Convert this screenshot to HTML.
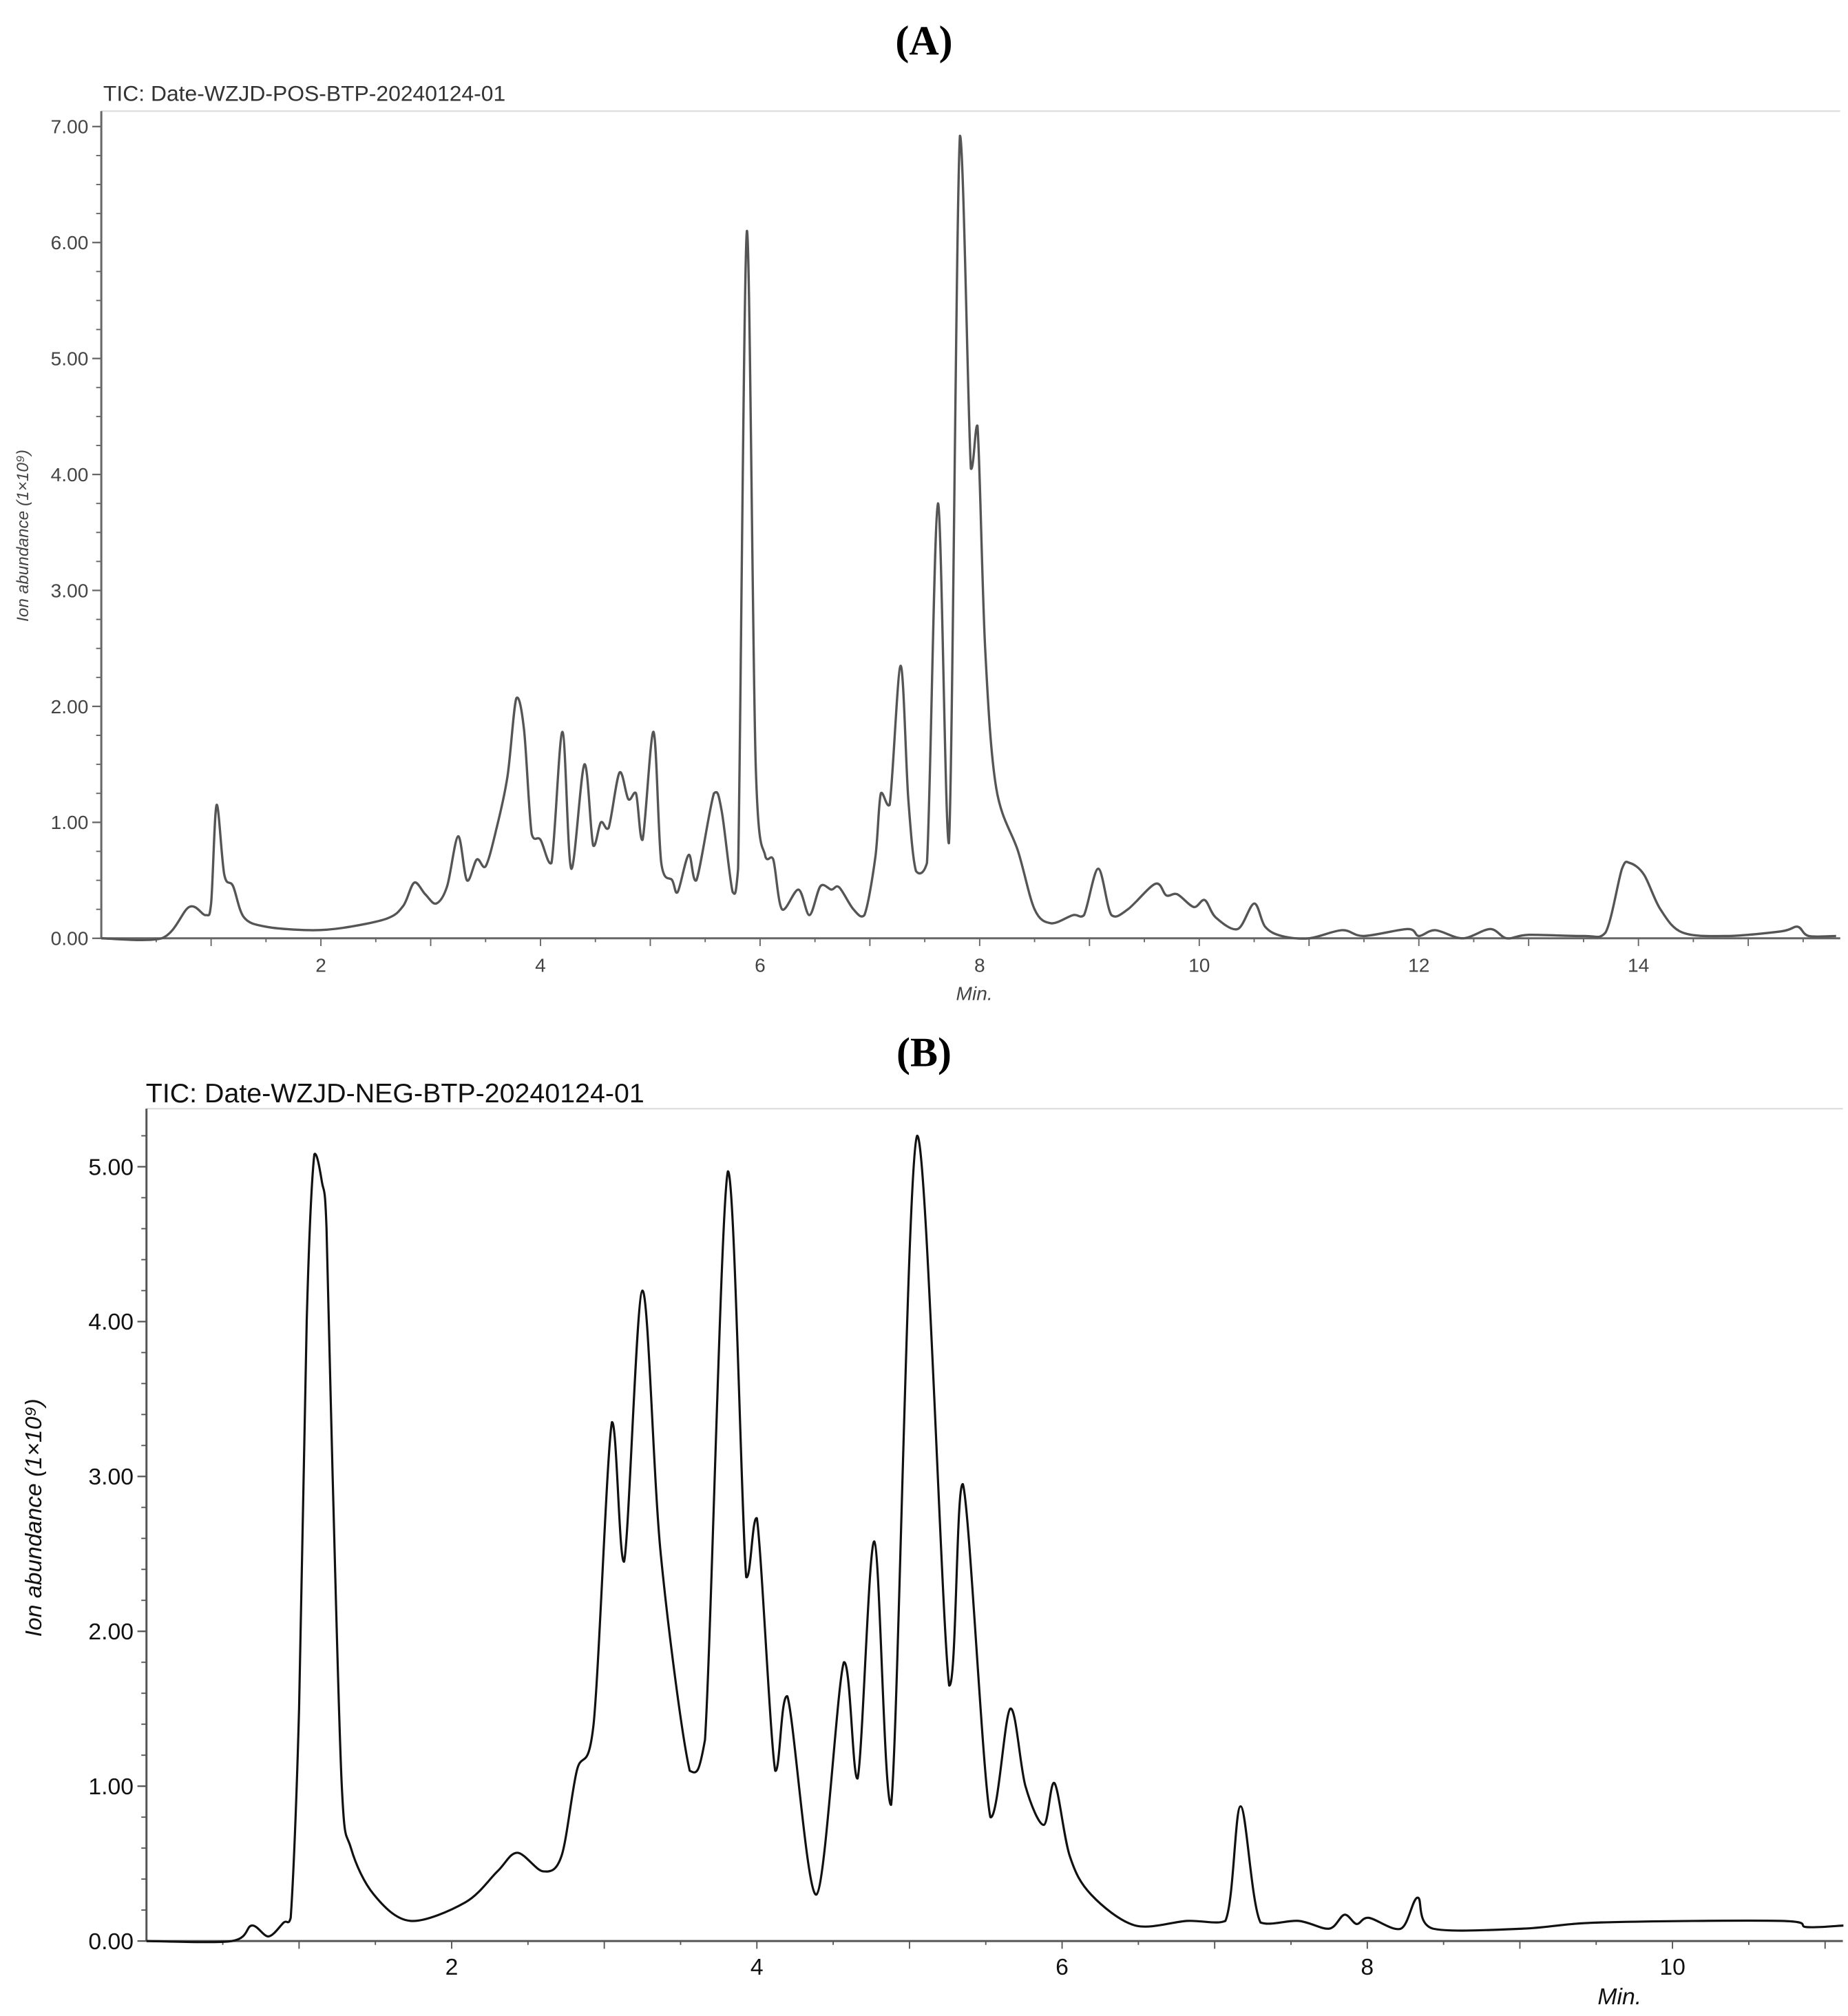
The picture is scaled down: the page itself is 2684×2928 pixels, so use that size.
<!DOCTYPE html>
<html><head><meta charset="utf-8">
<style>
html,body{margin:0;padding:0;background:#fff;}
svg{display:block;}
</style></head>
<body>
<svg id="fig" width="2684" height="2928" viewBox="0 0 1432 1562" xmlns="http://www.w3.org/2000/svg" style="font-family:'Liberation Sans','DejaVu Sans',sans-serif">
<rect x="0" y="0" width="1432" height="1562" fill="#fff"/>
<text x="716" y="42" text-anchor="middle" style="font-family:'Liberation Serif',serif" font-weight="bold" font-size="32" fill="#000">(A)</text>
<text x="80" y="78" font-size="17" fill="#333">TIC: Date-WZJD-POS-BTP-20240124-01</text>
<text x="716" y="826" text-anchor="middle" style="font-family:'Liberation Serif',serif" font-weight="bold" font-size="32" fill="#000">(B)</text>
<text x="113" y="854" font-size="21" fill="#111">TIC: Date-WZJD-NEG-BTP-20240124-01</text>
<g id="chartA"></g>
<g id="chartB"></g>
</svg>
<script>
// Panel A data (time in min, abundance in 1e9)
const timesA = [0,0.55,0.8,0.95,1.0,1.05,1.12,1.2,1.3,1.5,1.9,2.2,2.6,2.75,2.85,2.95,3.05,3.15,3.25,3.33,3.42,3.5,3.6,3.7,3.78,3.85,3.92,4.0,4.1,4.2,4.28,4.4,4.48,4.55,4.62,4.72,4.8,4.87,4.93,5.03,5.1,5.2,5.25,5.35,5.42,5.58,5.65,5.75,5.8,5.88,5.96,6.05,6.12,6.2,6.35,6.45,6.55,6.65,6.72,6.85,6.95,7.05,7.1,7.18,7.28,7.35,7.42,7.52,7.62,7.72,7.82,7.92,7.98,8.05,8.15,8.35,8.5,8.65,8.85,8.95,9.08,9.2,9.35,9.6,9.7,9.8,9.95,10.05,10.15,10.35,10.5,10.6,10.75,11.0,11.3,11.5,11.9,12.0,12.15,12.4,12.65,12.8,13.0,13.5,13.7,13.85,13.92,14.05,14.2,14.4,14.8,15.3,15.45,15.55,15.8];
const valuesA = [0,0,0.27,0.2,0.3,1.15,0.55,0.45,0.18,0.1,0.07,0.09,0.17,0.28,0.48,0.38,0.3,0.45,0.88,0.5,0.68,0.62,0.95,1.4,2.07,1.8,0.9,0.85,0.65,1.78,0.6,1.5,0.8,1.0,0.95,1.43,1.2,1.25,0.85,1.78,0.65,0.5,0.4,0.72,0.5,1.25,1.1,0.4,0.6,6.1,1.5,0.7,0.68,0.25,0.42,0.2,0.45,0.42,0.44,0.25,0.2,0.7,1.25,1.15,2.35,1.2,0.58,0.65,3.75,0.82,6.92,4.05,4.42,2.5,1.3,0.75,0.25,0.13,0.2,0.2,0.6,0.2,0.25,0.47,0.37,0.38,0.27,0.33,0.18,0.08,0.3,0.1,0.02,0.0,0.07,0.02,0.08,0.02,0.07,0.0,0.08,0.0,0.03,0.02,0.05,0.6,0.65,0.55,0.25,0.05,0.02,0.06,0.1,0.02,0.02];
const yTicksA = ["0.00","1.00","2.00","3.00","4.00","5.00","6.00","7.00"];
const xTicksA = ["2","4","6","8","10","12","14"];
// Panel B data
const timesB = [0,0.56,0.69,0.8,0.9,0.945,1.0,1.05,1.10,1.15,1.18,1.22,1.28,1.34,1.49,1.73,2.09,2.3,2.43,2.6,2.72,2.82,2.93,3.05,3.13,3.25,3.37,3.56,3.66,3.81,3.93,4.0,4.12,4.2,4.39,4.57,4.66,4.77,4.88,5.05,5.26,5.35,5.53,5.66,5.76,5.88,5.95,6.05,6.19,6.48,6.82,7.07,7.17,7.3,7.55,7.75,7.85,7.93,8.01,8.22,8.33,8.43,9.02,9.53,10.71,10.88,11.12];
const valuesB = [0,0,0.1,0.03,0.12,0.15,1.5,4.0,5.08,4.9,4.6,3.0,1.0,0.6,0.3,0.13,0.25,0.45,0.57,0.45,0.55,1.1,1.4,3.35,2.45,4.2,2.5,1.1,1.3,4.97,2.35,2.73,1.1,1.58,0.3,1.8,1.05,2.58,0.88,5.2,1.65,2.95,0.8,1.5,1.0,0.75,1.02,0.55,0.3,0.1,0.13,0.13,0.87,0.12,0.13,0.08,0.17,0.11,0.15,0.08,0.28,0.08,0.08,0.12,0.13,0.09,0.1];
const yTicksB = ["0.00","1.00","2.00","3.00","4.00","5.00"];
const xTicksB = ["2","4","6","8","10"];

const NS="http://www.w3.org/2000/svg";
function mk(parent,tag,attrs){const e=document.createElementNS(NS,tag);for(const k in attrs)e.setAttribute(k,attrs[k]);parent.appendChild(e);return e;}

function pathFrom(pts){
  let d="M"+pts[0][0].toFixed(2)+","+pts[0][1].toFixed(2);
  for(let i=0;i<pts.length-1;i++){
    const p0=pts[Math.max(0,i-1)],p1=pts[i],p2=pts[i+1],p3=pts[Math.min(pts.length-1,i+2)];
    const t=0.16;
    let c1y=p1[1]+(p2[1]-p0[1])*t, c2y=p2[1]-(p3[1]-p1[1])*t;
    const c1x=p1[0]+(p2[0]-p0[0])*t, c2x=p2[0]-(p3[0]-p1[0])*t;
    const lo=Math.min(p1[1],p2[1]),hi=Math.max(p1[1],p2[1]);
    c1y=Math.min(Math.max(c1y,lo-3),hi+3); c2y=Math.min(Math.max(c2y,lo-3),hi+3);
    d+="C"+c1x.toFixed(2)+","+c1y.toFixed(2)+" "+c2x.toFixed(2)+","+c2y.toFixed(2)+" "+p2[0].toFixed(2)+","+p2[1].toFixed(2);
  }
  return d;
}

function drawChart(g,cfg){
  const xs=t=>cfg.x0+t*cfg.xPer;
  const ys=v=>cfg.y0-v*cfg.yPer;
  const top=mk(g,"line",{x1:cfg.x0,y1:cfg.top,x2:cfg.right,y2:cfg.top,stroke:"#ddd","stroke-width":1.2});
  
  
  const yax=mk(g,"line",{x1:cfg.x0,y1:cfg.top,x2:cfg.x0,y2:cfg.y0,stroke:cfg.axisColor,"stroke-width":1.6});
  
  
  const xax=mk(g,"line",{x1:cfg.x0,y1:cfg.y0,x2:cfg.right,y2:cfg.y0,stroke:cfg.axisColor,"stroke-width":1.6});
  
  
  const maxY=(cfg.y0-cfg.top)/cfg.yPer;
  for(let v=0;v<=maxY+1e-6;v+=cfg.yMinor){
    const tk=mk(g,"line",{x1:cfg.x0-4,y1:ys(v),x2:cfg.x0,y2:ys(v),stroke:cfg.axisColor,"stroke-width":1});
    
    
  }
  cfg.yTicks.forEach(lbl=>{
    const v=parseFloat(lbl);
    const tk=mk(g,"line",{x1:cfg.x0-7,y1:ys(v),x2:cfg.x0,y2:ys(v),stroke:cfg.axisColor,"stroke-width":1.2});
    
    
    const tx=mk(g,"text",{x:cfg.x0-10,y:ys(v)+cfg.fs*0.35,"text-anchor":"end","font-size":cfg.fs,fill:cfg.textColor});
    tx.textContent=lbl;
    
    
  });
  const maxX=(cfg.right-cfg.x0)/cfg.xPer;
  for(let t=0.5;t<=maxX;t+=0.5){
    const major=Math.abs(t-Math.round(t))<1e-6;
    const tk=mk(g,"line",{x1:xs(t),y1:cfg.y0,x2:xs(t),y2:cfg.y0+(major?6:3),stroke:cfg.axisColor,"stroke-width":1});
    
    
  }
  cfg.xTicks.forEach(lbl=>{
    const t=parseFloat(lbl);
    const tx=mk(g,"text",{x:xs(t),y:cfg.xlabY,"text-anchor":"middle","font-size":cfg.fs,fill:cfg.textColor});
    tx.textContent=lbl;
    
    
  });
  const xl=mk(g,"text",{x:cfg.xlX,y:cfg.xlY,"text-anchor":"middle","font-size":cfg.fs,"font-style":"italic",fill:cfg.textColor});
  xl.textContent="Min.";
  
  
  const yl=mk(g,"text",{x:0,y:0,"text-anchor":"middle","font-size":cfg.ylfs,"font-style":"italic",fill:cfg.textColor,transform:"translate("+cfg.ylX+","+cfg.ylY+") rotate(-90)"});
  yl.textContent="Ion abundance (1×10⁹)";
  
  
  const pts=cfg.times.map((t,i)=>[xs(t),ys(cfg.values[i])]);
  const p=mk(g,"path",{d:pathFrom(pts),fill:"none",stroke:cfg.lineColor,"stroke-width":cfg.lw,"stroke-linejoin":"round"});
  
  
}

drawChart(document.getElementById("chartA"),{
  x0:78.5,y0:727,xPer:85.08,yPer:89.86,top:86,right:1426,yMinor:0.25,
  yTicks:yTicksA,xTicks:xTicksA,times:timesA,values:valuesA,fs:15,ylfs:13,
  axisColor:"#666",textColor:"#444",lineColor:"#555",lw:1.8,
  xlabY:753,xlX:755,xlY:775,ylX:22,ylY:415
});
drawChart(document.getElementById("chartB"),{
  x0:113.5,y0:1504,xPer:118.25,yPer:120,top:859,right:1428,yMinor:0.2,
  yTicks:yTicksB,xTicks:xTicksB,times:timesB,values:valuesB,fs:18,ylfs:18,
  axisColor:"#555",textColor:"#111",lineColor:"#111",lw:1.7,
  xlabY:1530,xlX:1255,xlY:1553,ylX:32,ylY:1176
});
</script>
</body></html>
